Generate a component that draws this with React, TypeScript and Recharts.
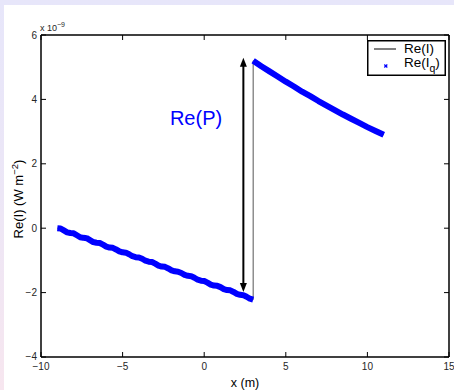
import React from 'react';
import { LineChart, Line, XAxis, YAxis, ReferenceLine, ReferenceDot, Legend } from 'recharts';

const FONT = '"Liberation Sans", Arial, Helvetica, sans-serif';
const TICK_COLOR = '#262626';

const xTicks = [-10, -5, 0, 5, 10, 15];
const yTicks = [-4, -2, 0, 2, 4, 6];

// Re(I_q), in units of 1e-9 W m^-2, before the jump at x = 3 m
const leftCurve: [number, number][] = [
  [-9, 0], [-8.8, -0.01], [-8.6, -0.07], [-8.4, -0.13], [-8.2, -0.15], [-8, -0.16],
  [-7.8, -0.22], [-7.6, -0.28], [-7.4, -0.3], [-7.2, -0.31], [-7, -0.37], [-6.8, -0.43],
  [-6.6, -0.45], [-6.4, -0.46], [-6.2, -0.51], [-6, -0.57], [-5.8, -0.6], [-5.6, -0.61],
  [-5.4, -0.66], [-5.2, -0.72], [-5, -0.75], [-4.8, -0.76], [-4.6, -0.81], [-4.4, -0.87],
  [-4.2, -0.9], [-4, -0.91], [-3.8, -0.95], [-3.6, -1.01], [-3.4, -1.04], [-3.2, -1.05],
  [-3, -1.1], [-2.8, -1.16], [-2.6, -1.19], [-2.4, -1.2], [-2.2, -1.25], [-2, -1.31],
  [-1.8, -1.34], [-1.6, -1.35], [-1.4, -1.39], [-1.2, -1.45], [-1, -1.48], [-0.8, -1.49],
  [-0.6, -1.54], [-0.4, -1.6], [-0.2, -1.63], [0, -1.64], [0.2, -1.69], [0.4, -1.75],
  [0.6, -1.78], [0.8, -1.79], [1, -1.83], [1.2, -1.89], [1.4, -1.92], [1.6, -1.93],
  [1.8, -1.98], [2, -2.04], [2.2, -2.07], [2.4, -2.08], [2.6, -2.13], [2.8, -2.19], [3, -2.22],
];

// after the jump
const rightCurve: [number, number][] = [
  [3, 5.2], [3.5, 5.03], [4, 4.87], [4.5, 4.71], [5, 4.55], [5.5, 4.4], [6, 4.24],
  [6.5, 4.1], [7, 3.95], [7.5, 3.81], [8, 3.67], [8.5, 3.53], [9, 3.4], [9.5, 3.27],
  [10, 3.14], [10.5, 3.02], [11, 2.9],
];

// the Re(P) arrow: x position and its two tips
const arrowX = 2.4;
const arrowFrom = -1.98;
const arrowTo = 5.29;
const arrowLabel = { x: -0.5, y: 3.2, text: 'Re(P)' };

const toPoints = (arr: [number, number][]) => arr.map(([x, y]) => ({ x, y }));
const leftData = toPoints(leftCurve);
const rightData = toPoints(rightCurve);
const exactData = [...leftData, ...rightData];

const fmt = (v: number) => (v < 0 ? '\u2212' + Math.abs(v) : String(v));

const BottomTick = ({ x, y, payload }: any) => (
  <g>
    <line x1={x} y1={y} x2={x} y2={y - 5} stroke="#000" strokeWidth={1} />
    <text x={x} y={y + 9} textAnchor="middle" dominantBaseline="central" fontSize={10} fill={TICK_COLOR} fontFamily={FONT}>
      {fmt(payload.value)}
    </text>
  </g>
);

const LeftTick = ({ x, y, payload }: any) => (
  <g>
    <line x1={x} y1={y} x2={x + 5} y2={y} stroke="#000" strokeWidth={1} />
    <text x={x - 4} y={payload.value === -4 ? y - 1 : y} textAnchor="end" dominantBaseline="central" fontSize={10} fill={TICK_COLOR} fontFamily={FONT}>
      {fmt(payload.value)}
    </text>
  </g>
);

const TopTick = ({ x, y }: any) => <line x1={x} y1={y} x2={x} y2={y + 5} stroke="#000" strokeWidth={1} />;
const RightTick = ({ x, y }: any) => <line x1={x} y1={y} x2={x - 5} y2={y} stroke="#000" strokeWidth={1} />;

const DoubleArrow = (p: any) => {
  const { x1, y1, x2, y2 } = p;
  const top = Math.min(y1, y2);
  const bot = Math.max(y1, y2);
  const hl = 9;
  const hw = 3.5;
  return (
    <g>
      <line x1={x1} y1={top + hl - 1} x2={x2} y2={bot - hl + 1} stroke="#000" strokeWidth={2} />
      <polygon points={`${x1},${top} ${x1 - hw},${top + hl} ${x1 + hw},${top + hl}`} fill="#000" />
      <polygon points={`${x1},${bot} ${x1 - hw},${bot - hl} ${x1 + hw},${bot - hl}`} fill="#000" />
    </g>
  );
};

const LegendBox = () => (
  <svg width={79} height={36} style={{ display: 'block' }}>
    <rect x={0.75} y={0.75} width={77.5} height={34.5} fill="#fff" stroke="#000" strokeWidth={1.5} />
    <line x1={7} y1={9} x2={29} y2={9} stroke="#000" strokeWidth={1} />
    <text x={37} y={12.5} fontSize={13.5} fontFamily={FONT} fill="#000">Re(I)</text>
    <line x1={17.3} y1={24.5} x2={20.3} y2={27.5} stroke="#0000ff" strokeWidth={1.2} />
    <line x1={17.3} y1={27.5} x2={20.3} y2={24.5} stroke="#0000ff" strokeWidth={1.2} />
    <text x={37} y={26.5} fontSize={13.5} fontFamily={FONT} fill="#000">
      Re(I<tspan fontSize={10.5} dy={5}>q</tspan><tspan dy={-5}>)</tspan>
    </text>
  </svg>
);

const YTitle = () => (
  <g fontFamily={FONT}>
    <text x={40} y={31} fontSize={9} fill={TICK_COLOR}>
      x 10<tspan fontSize={7} dy={-4}>{'\u2212'}9</tspan>
    </text>
    <text x={23} y={199} fontSize={13} fill="#000" textAnchor="middle" transform="rotate(-90, 23, 199)">
      Re(I) (W m<tspan fontSize={9.5} dy={-5}>{'\u2212'}2</tspan><tspan dy={5}>)</tspan>
    </text>
  </g>
);

const XTitle = () => (
  <text x={245} y={387} fontSize={12.5} fontFamily={FONT} fill="#000" textAnchor="middle">
    x (m)
  </text>
);

const axisLine = { stroke: '#000', strokeWidth: 1.5 };

export default function App() {
  return (
    <div
      style={{
        position: 'absolute',
        left: 0,
        top: 0,
        width: 454,
        height: 390,
        background: 'linear-gradient(180deg, #e7e6fa 0%, #ece6f6 50%, #f7e6ef 100%)',
        overflow: 'hidden',
      }}
    >
      <div style={{ position: 'absolute', left: 4, top: 5, width: 450, height: 385, background: '#fff' }} />
      <div style={{ position: 'absolute', left: 0, top: 0 }}>
        <LineChart width={454} height={390} margin={{ top: 34, right: 4, bottom: 32, left: 40 }}>
          <XAxis
            type="number"
            dataKey="x"
            domain={[-10, 15]}
            ticks={xTicks}
            interval={0}
            height={1}
            tickSize={0}
            tickMargin={0}
            tick={<BottomTick />}
            axisLine={axisLine}
            tickLine={false}
            allowDataOverflow
            label={{ content: () => <XTitle /> }}
          />
          <XAxis
            xAxisId="top"
            orientation="top"
            type="number"
            dataKey="x"
            domain={[-10, 15]}
            ticks={xTicks}
            interval={0}
            height={1}
            tickSize={0}
            tickMargin={0}
            tick={<TopTick />}
            axisLine={axisLine}
            tickLine={false}
            allowDataOverflow
          />
          <YAxis
            type="number"
            domain={[-4, 6]}
            ticks={yTicks}
            interval={0}
            width={1}
            tickSize={0}
            tickMargin={0}
            tick={<LeftTick />}
            axisLine={axisLine}
            tickLine={false}
            allowDataOverflow
            label={{ content: () => <YTitle /> }}
          />
          <YAxis
            yAxisId="right"
            orientation="right"
            type="number"
            domain={[-4, 6]}
            ticks={yTicks}
            interval={0}
            width={1}
            tickSize={0}
            tickMargin={0}
            tick={<RightTick />}
            axisLine={axisLine}
            tickLine={false}
            allowDataOverflow
          />
          <Line
            data={exactData}
            dataKey="y"
            name="Re(I)"
            stroke="#555"
            strokeWidth={1}
            dot={false}
            activeDot={false}
            isAnimationActive={false}
          />
          <Line
            data={leftData}
            dataKey="y"
            name="Re(Iq)"
            stroke="#0000ff"
            strokeWidth={6}
            strokeLinejoin="round"
            dot={false}
            activeDot={false}
            isAnimationActive={false}
          />
          <Line
            data={rightData}
            dataKey="y"
            name="Re(Iq) "
            stroke="#0000ff"
            strokeWidth={6}
            strokeLinejoin="round"
            dot={false}
            activeDot={false}
            isAnimationActive={false}
          />
          <ReferenceLine
            segment={[
              { x: arrowX, y: arrowFrom },
              { x: arrowX, y: arrowTo },
            ]}
            shape={DoubleArrow}
          />
          <ReferenceDot
            x={arrowLabel.x}
            y={arrowLabel.y}
            r={0}
            shape={(p: any) => (
              <text x={p.cx} y={p.cy} textAnchor="middle" fontSize={20} fontFamily={FONT} fill="#0000ff">
                {arrowLabel.text}
              </text>
            )}
          />
          <Legend
            layout="horizontal"
            verticalAlign="middle"
            align="center"
            content={() => <LegendBox />}
            wrapperStyle={{ left: 367, top: 40, width: 79, height: 36 }}
          />
        </LineChart>
      </div>
    </div>
  );
}
